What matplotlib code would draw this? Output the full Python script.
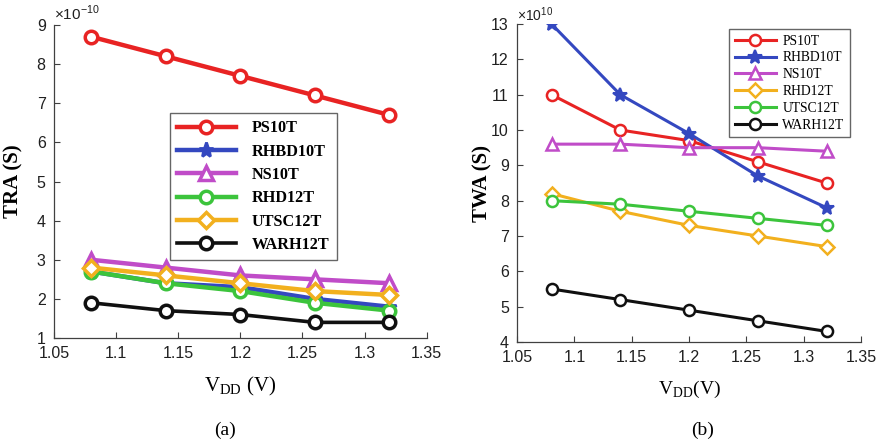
import matplotlib
matplotlib.use("AGG")
import numpy as np
import matplotlib.pyplot as plt

vdd = [1.08, 1.14, 1.2, 1.26, 1.32]

# (a) TRA, units of 1e-10 s
tra_ps10t = [8.7, 8.2, 7.7, 7.2, 6.7]
tra_rhbd10t = [2.7, 2.4, 2.3, 2.0, 1.8]
tra_ns10t = [3.0, 2.8, 2.6, 2.5, 2.4]
tra_rhd12t = [2.7, 2.4, 2.2, 1.9, 1.7]
tra_utsc12t = [2.8, 2.6, 2.4, 2.2, 2.1]
tra_warh12t = [1.9, 1.7, 1.6, 1.4, 1.4]

# (b) TWA, units of 1e-10 s
twa_ps10t = [11.0, 10.0, 9.7, 9.1, 8.5]
twa_rhbd10t = [13.0, 11.0, 9.9, 8.7, 7.8]
twa_ns10t = [9.6, 9.6, 9.5, 9.5, 9.4]
twa_rhd12t = [8.2, 7.7, 7.3, 7.0, 6.7]
twa_utsc12t = [8.0, 7.9, 7.7, 7.5, 7.3]
twa_warh12t = [5.5, 5.2, 4.9, 4.6, 4.3]

red = "#e82323"
blue = "#3448c0"
mag = "#c04cc8"
green = "#3cc43c"
orange = "#f2b01e"
black = "#101010"

serif = "Liberation Serif"
sans = "Liberation Sans"

fig = plt.figure(figsize=(8.78, 4.45), dpi=100)
ax1 = fig.add_axes([0.0615, 0.2404, 0.4245, 0.7034])
ax2 = fig.add_axes([0.589, 0.2315, 0.3916, 0.7145])

def style(ax):
    for s in ["top", "right"]:
        ax.spines[s].set_visible(False)
    for s in ["left", "bottom"]:
        ax.spines[s].set_color("#404040")
        ax.spines[s].set_linewidth(0.9)
    ax.tick_params(direction="in", length=4, color="#404040", labelsize=11.5, pad=6)
    for lab in ax.get_xticklabels() + ax.get_yticklabels():
        lab.set_fontfamily(sans)
        lab.set_color("#202020")

# ---- (a) ----
lw1 = 3.2
ms1 = 9
ax1.plot(vdd, tra_ps10t, "-o", color=red, lw=lw1, ms=ms1, mfc="white", mew=2.5, label="PS10T")
ax1.plot(vdd, tra_rhbd10t, "-*", color=blue, lw=lw1, ms=ms1 + 2, mfc=blue, mew=2, label="RHBD10T")
ax1.plot(vdd, tra_ns10t, "-^", color=mag, lw=lw1, ms=ms1 + 1, mfc="white", mew=2.5, label="NS10T")
ax1.plot(vdd, tra_rhd12t, "-o", color=green, lw=lw1, ms=ms1, mfc="white", mew=2.5, label="RHD12T")
ax1.plot(vdd, tra_utsc12t, "-D", color=orange, lw=lw1, ms=ms1 - 1, mfc="white", mew=2.5, label="UTSC12T")
ax1.plot(vdd, tra_warh12t, "-o", color=black, lw=lw1 - 0.6, ms=ms1, mfc="white", mew=2.5, label="WARH12T")
ax1.set_xlim(1.05, 1.35)
ax1.set_ylim(1, 9)
ax1.set_xticks([1.05, 1.1, 1.15, 1.2, 1.25, 1.3, 1.35])
ax1.set_xticklabels(["1.05", "1.1", "1.15", "1.2", "1.25", "1.3", "1.35"])
ax1.set_yticks(range(1, 10))
style(ax1)
ax1.set_ylabel("TRA (S)", fontfamily=serif, fontweight="bold", fontsize=15)
ax1.yaxis.set_label_coords(-0.083, 0.5)
ax1.set_xlabel("V$_{\\mathregular{DD}}$ (V)", fontfamily=serif, fontsize=15, labelpad=10)
ax1.text(0.0, 1.005, "×10$^{\\mathregular{-10}}$", transform=ax1.transAxes, fontfamily=sans,
         fontsize=11, color="#202020", ha="left", va="bottom")
leg1 = ax1.legend(loc="upper left", bbox_to_anchor=(0.311, 0.719), borderaxespad=0,
                  prop={"family": serif, "weight": "bold", "size": 11.7},
                  frameon=True, fancybox=False, edgecolor="#404040", handlelength=3.6, labelspacing=0.45,
                  borderpad=0.45, handletextpad=1.0)
leg1.get_frame().set_linewidth(1.0)

# ---- (b) ----
lw2 = 2.2
ms2 = 8
ax2.plot(vdd, twa_ps10t, "-o", color=red, lw=lw2, ms=ms2, mfc="white", mew=1.8, label="PS10T")
ax2.plot(vdd, twa_rhbd10t, "-*", color=blue, lw=lw2, ms=ms2 + 2, mfc=blue, mew=1.5, label="RHBD10T")
ax2.plot(vdd, twa_ns10t, "-^", color=mag, lw=lw2, ms=ms2 + 1, mfc="white", mew=1.8, label="NS10T")
ax2.plot(vdd, twa_rhd12t, "-D", color=orange, lw=lw2, ms=ms2 - 1, mfc="white", mew=1.8, label="RHD12T")
ax2.plot(vdd, twa_utsc12t, "-o", color=green, lw=lw2, ms=ms2, mfc="white", mew=1.8, label="UTSC12T")
ax2.plot(vdd, twa_warh12t, "-o", color=black, lw=lw2, ms=ms2, mfc="white", mew=1.8, label="WARH12T")
ax2.set_xlim(1.05, 1.35)
ax2.set_ylim(4, 13)
ax2.set_xticks([1.05, 1.1, 1.15, 1.2, 1.25, 1.3, 1.35])
ax2.set_xticklabels(["1.05", "1.1", "1.15", "1.2", "1.25", "1.3", "1.35"])
ax2.set_yticks(range(4, 14))
style(ax2)
ax2.set_ylabel("TWA (S)", fontfamily=serif, fontweight="bold", fontsize=15)
ax2.yaxis.set_label_coords(-0.072, 0.5)
ax2.set_xlabel("V$_{\\mathregular{DD}}$(V)", fontfamily=serif, fontsize=14, labelpad=10)
ax2.text(0.0, 1.0, "×10$^{\\mathregular{10}}$", transform=ax2.transAxes, fontfamily=sans,
         fontsize=10, color="#202020", ha="left", va="bottom")
leg2 = ax2.legend(loc="upper right", bbox_to_anchor=(0.968, 0.984), borderaxespad=0,
                  prop={"family": serif, "size": 9.8},
                  frameon=True, fancybox=False, edgecolor="#404040", handlelength=3.0, labelspacing=0.28,
                  borderpad=0.4, handletextpad=0.5)
leg2.get_frame().set_linewidth(1.0)

fig.text(225 / 878, 1 - 430 / 445, "(a)", fontfamily=serif, fontsize=14, ha="center", va="center")
fig.text(703 / 878, 1 - 430 / 445, "(b)", fontfamily=serif, fontsize=14, ha="center", va="center")

fig.savefig("out.png", dpi=100)
